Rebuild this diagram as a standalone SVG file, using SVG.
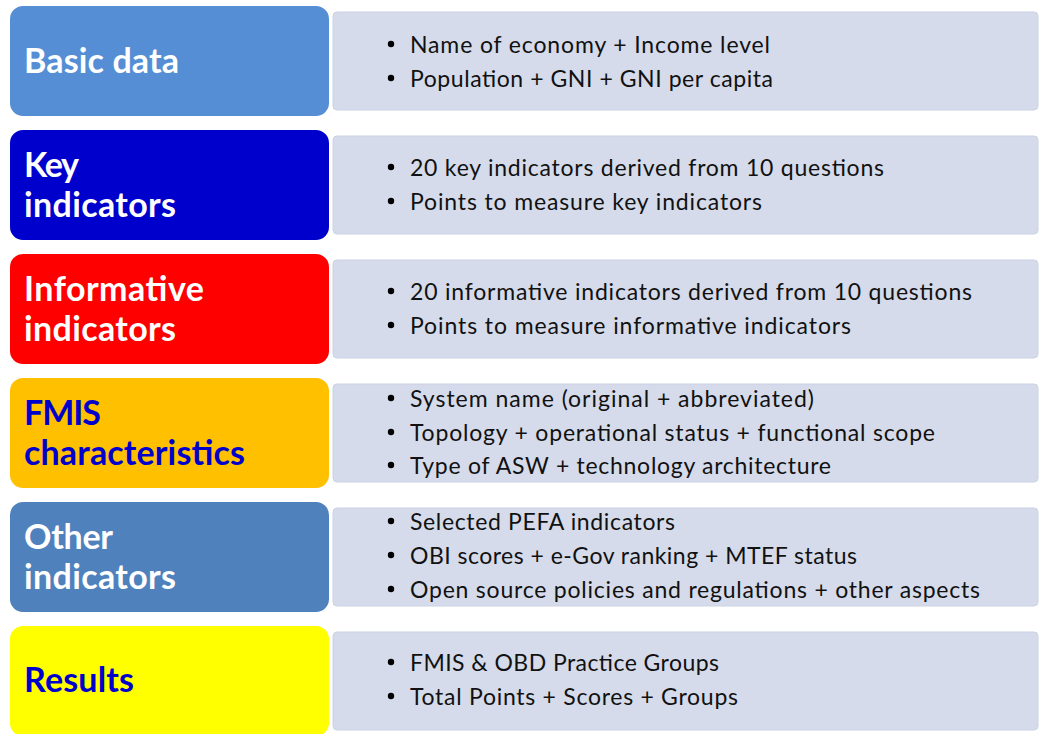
<svg xmlns="http://www.w3.org/2000/svg" width="1040" height="734" viewBox="0 0 1040 734">
  <style>
    .panel { fill: #D5DBEA; stroke: #CBD2E3; stroke-width: 1; }
    .tab { stroke: #FFFFFF; stroke-width: 2; }
    .title { font-family: Lato, "Open Sans", "Liberation Sans", sans-serif; font-weight: 700; font-size: 34px; }
    .light { fill: #FFFFFF; }
    .dark { fill: #0000CC; }
    .item { font-family: Lato, "Open Sans", "Liberation Sans", sans-serif; font-size: 23px; fill: #111111; }
    .dot { fill: #000000; }
  </style>
  <rect width="1040" height="734" fill="#FFFFFF"/>

  <!-- Basic data -->
  <g id="basic-data">
    <rect class="panel" x="333" y="12" width="705" height="98" rx="4"/>
    <rect class="tab" x="9" y="5" width="321" height="112" rx="14" fill="#558ED5"/>
    <text class="title light" x="24" y="73" textLength="155">Basic data</text>
    <circle class="dot" cx="391" cy="44" r="3.2"/>
    <text class="item" x="410" y="53" textLength="360">Name of economy + Income level</text>
    <circle class="dot" cx="391" cy="78" r="3.2"/>
    <text class="item" x="410" y="87" textLength="363">Population + GNI + GNI per capita</text>
  </g>

  <!-- Key indicators -->
  <g id="key-indicators">
    <rect class="panel" x="333" y="136" width="705" height="98" rx="4"/>
    <rect class="tab" x="9" y="129" width="321" height="112" rx="14" fill="#0000CC"/>
    <text class="title light" x="24" y="177" textLength="55">Key</text>
    <text class="title light" x="24" y="217" textLength="152">indicators</text>
    <circle class="dot" cx="391" cy="167" r="3.2"/>
    <text class="item" x="410" y="176" textLength="474">20 key indicators derived from 10 questions</text>
    <circle class="dot" cx="391" cy="201" r="3.2"/>
    <text class="item" x="410" y="210" textLength="352">Points to measure key indicators</text>
  </g>

  <!-- Informative indicators -->
  <g id="informative-indicators">
    <rect class="panel" x="333" y="260" width="705" height="98" rx="4"/>
    <rect class="tab" x="9" y="253" width="321" height="112" rx="14" fill="#FF0000"/>
    <text class="title light" x="24" y="301" textLength="180">Informative</text>
    <text class="title light" x="24" y="341" textLength="152">indicators</text>
    <circle class="dot" cx="391" cy="291" r="3.2"/>
    <text class="item" x="410" y="300" textLength="562">20 informative indicators derived from 10 questions</text>
    <circle class="dot" cx="391" cy="325" r="3.2"/>
    <text class="item" x="410" y="334" textLength="441">Points to measure informative indicators</text>
  </g>

  <!-- FMIS characteristics -->
  <g id="fmis-characteristics">
    <rect class="panel" x="333" y="384" width="705" height="98" rx="4"/>
    <rect class="tab" x="9" y="377" width="321" height="112" rx="14" fill="#FFC000"/>
    <text class="title dark" x="24" y="425" textLength="77">FMIS</text>
    <text class="title dark" x="24" y="465" textLength="221">characteristics</text>
    <circle class="dot" cx="391" cy="398" r="3.2"/>
    <text class="item" x="410" y="407" textLength="404">System name (original + abbreviated)</text>
    <circle class="dot" cx="391" cy="432" r="3.2"/>
    <text class="item" x="410" y="441" textLength="525">Topology + operational status + functional scope</text>
    <circle class="dot" cx="391" cy="465" r="3.2"/>
    <text class="item" x="410" y="474" textLength="421">Type of ASW + technology architecture</text>
  </g>

  <!-- Other indicators -->
  <g id="other-indicators">
    <rect class="panel" x="333" y="508" width="705" height="98" rx="4"/>
    <rect class="tab" x="9" y="501" width="321" height="112" rx="14" fill="#4F81BD"/>
    <text class="title light" x="24" y="549" textLength="89">Other</text>
    <text class="title light" x="24" y="589" textLength="152">indicators</text>
    <circle class="dot" cx="391" cy="521" r="3.2"/>
    <text class="item" x="410" y="530" textLength="265">Selected PEFA indicators</text>
    <circle class="dot" cx="391" cy="555" r="3.2"/>
    <text class="item" x="410" y="564" textLength="447">OBI scores + e-Gov ranking + MTEF status</text>
    <circle class="dot" cx="391" cy="589" r="3.2"/>
    <text class="item" x="410" y="598" textLength="570">Open source policies and regulations + other aspects</text>
  </g>

  <!-- Results -->
  <g id="results">
    <rect class="panel" x="333" y="632" width="705" height="98" rx="4"/>
    <rect class="tab" x="9" y="625" width="321" height="112" rx="14" fill="#FFFF00"/>
    <text class="title dark" x="24" y="692" textLength="110">Results</text>
    <circle class="dot" cx="391" cy="662" r="3.2"/>
    <text class="item" x="410" y="671" textLength="309">FMIS &amp; OBD Practice Groups</text>
    <circle class="dot" cx="391" cy="696" r="3.2"/>
    <text class="item" x="410" y="705" textLength="328">Total Points + Scores + Groups</text>
  </g>
</svg>
